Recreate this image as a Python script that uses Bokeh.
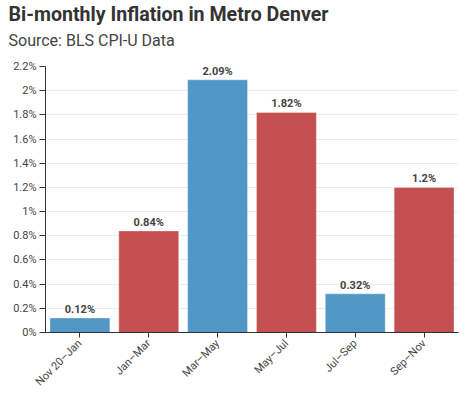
from bokeh.plotting import figure
from bokeh.models import ColumnDataSource, Range1d, CustomJSTickFormatter, FixedTicker, Title, LabelSet
from bokeh.core.properties import value
from bokeh.embed import file_html
from bokeh.resources import INLINE
from math import pi

title_text = "Bi-monthly Inflation in Metro Denver"
subtitle_text = "Source: BLS CPI-U Data"
categories = ["Nov 20\u2013Jan", "Jan\u2013Mar", "Mar\u2013May", "May\u2013Jul", "Jul\u2013Sep", "Sep\u2013Nov"]
values = [0.12, 0.84, 2.09, 1.82, 0.32, 1.2]
value_labels = ["0.12%", "0.84%", "2.09%", "1.82%", "0.32%", "1.2%"]
colors = ["#5097c5", "#c45052", "#5097c5", "#c45052", "#5097c5", "#c45052"]
y_ticks = [0, 0.2, 0.4, 0.6, 0.8, 1.0, 1.2, 1.4, 1.6, 1.8, 2.0, 2.2]

src = ColumnDataSource(dict(cat=categories, val=values, lab=value_labels, col=colors))

p = figure(x_range=categories, y_range=Range1d(0, 2.2), width=470, height=395,
           output_backend="svg", toolbar_location=None,
           min_border_left=45, min_border_right=12, min_border_top=66, min_border_bottom=60)
p.outline_line_color = None
p.background_fill_color = "white"

p.title = Title(text=title_text, text_font="Roboto",
                text_font_size="19.6px", text_font_style="bold", text_color="#333333",
                align="left", offset=-37, standoff=-26)
p.add_layout(Title(text=subtitle_text, text_font="Roboto", text_font_size="16px",
                   text_font_style="normal", text_color="#444444", align="left", offset=-37,
                   standoff=33), "above")

p.vbar(x="cat", top="val", width=0.87, source=src, fill_color="col",
       line_color="white", line_alpha=0.35, line_width=1)

labels = LabelSet(x="cat", y="val", text="lab", source=src, text_align="center",
                  text_baseline="alphabetic", y_offset=5, text_font=value("Roboto"),
                  text_font_size="11px", text_font_style="bold", text_color="#444444")
p.add_layout(labels)

p.xgrid.grid_line_color = None
p.ygrid.grid_line_color = "#ebebeb"
p.ygrid.ticker = FixedTicker(ticks=y_ticks)

p.yaxis.ticker = FixedTicker(ticks=y_ticks)
p.yaxis.formatter = CustomJSTickFormatter(code="return (Math.round(tick*10)/10) + '%';")
p.yaxis.axis_line_color = "#333333"
p.yaxis.major_tick_line_color = "#333333"
p.yaxis.major_tick_out = 6
p.yaxis.major_tick_in = 0
p.yaxis.minor_tick_line_color = None
p.yaxis.major_label_text_font = "Roboto"
p.yaxis.major_label_text_font_size = "11px"
p.yaxis.major_label_text_color = "#444444"
p.yaxis.major_label_standoff = 3

p.xaxis.axis_line_color = "#333333"
p.xaxis.major_tick_line_color = "#333333"
p.xaxis.major_tick_out = 5
p.xaxis.major_tick_in = 0
p.xaxis.major_label_orientation = pi / 4
p.xaxis.major_label_text_font = "Roboto"
p.xaxis.major_label_text_font_size = "11px"
p.xaxis.major_label_text_color = "#444444"
p.xaxis.major_label_standoff = 4

open("out.html", "w").write(file_html(p, INLINE))
